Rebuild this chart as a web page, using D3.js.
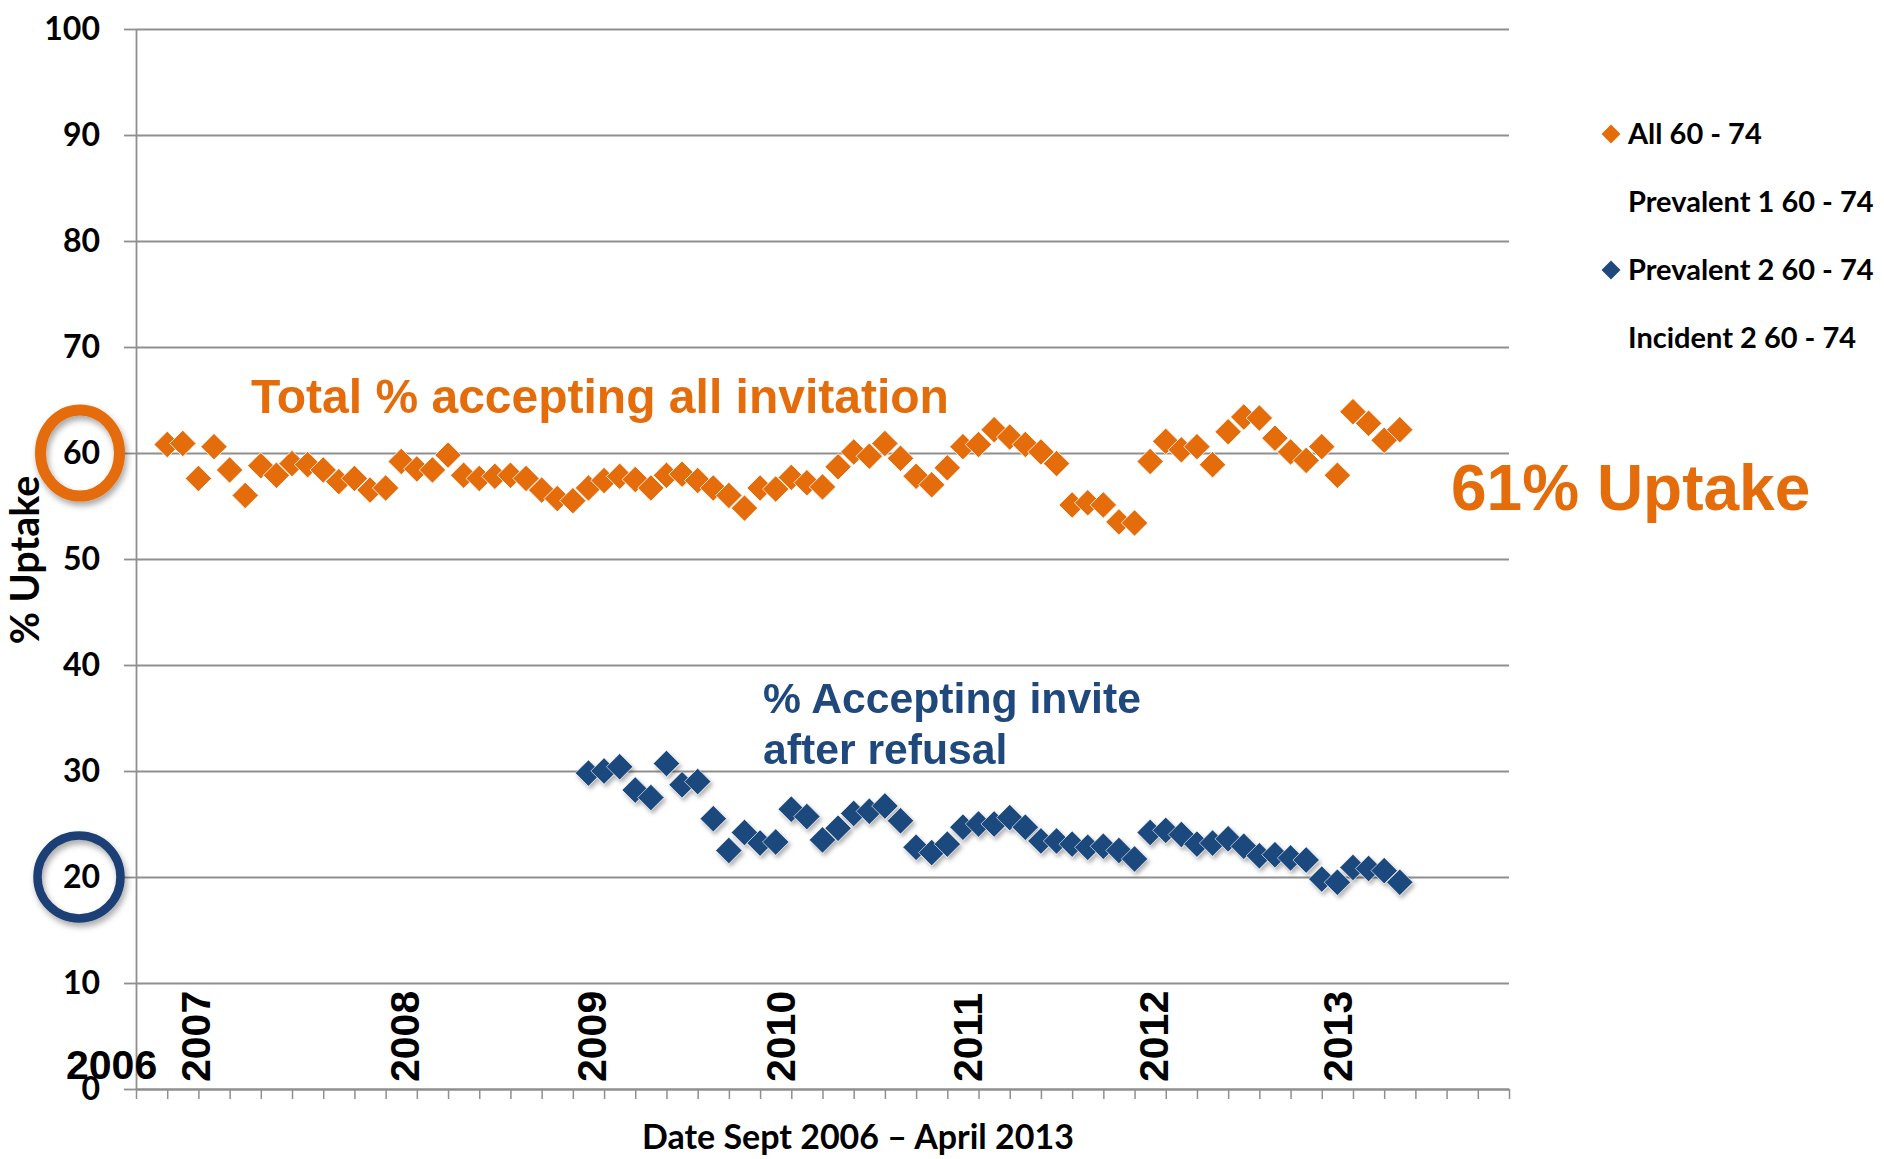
<!DOCTYPE html>
<html>
<head>
<meta charset="utf-8">
<script src="https://cdn.jsdelivr.net/npm/d3@7"></script>
<style>
  body { margin: 0; background: #fff; }
  svg { display: block; }
</style>
</head>
<body>
<div id="chart"></div>
<script>
// months Sept 2006 .. April 2013 (80 categories)
const monthLabels = d3.timeMonth.range(new Date(2006, 8, 1), new Date(2013, 4, 1)).map(d3.timeFormat("%b %Y"));

// % uptake, all invitations, 60 - 74
const all6074 = [
  60.8, 60.9, 57.6, 60.6, 58.4, 56.0, 58.8, 57.9, 59.0, 58.9,
  58.4, 57.3, 57.6, 56.5, 56.7, 59.2, 58.5, 58.4, 59.8, 57.9,
  57.6, 57.8, 57.9, 57.6, 56.5, 55.7, 55.5, 56.7, 57.4, 57.8,
  57.5, 56.7, 57.9, 58.0, 57.4, 56.7, 56.0, 54.8, 56.7, 56.6,
  57.7, 57.2, 56.8, 58.7, 60.1, 59.7, 60.9, 59.5, 57.8, 57.0,
  58.6, 60.6, 60.8, 62.2, 61.5, 60.8, 60.1, 59.0, 55.1, 55.3,
  55.1, 53.5, 53.4, 59.2, 61.1, 60.3, 60.6, 58.9, 62.0, 63.4,
  63.3, 61.4, 60.1, 59.3, 60.6, 57.9, 63.9, 62.8, 61.2, 62.2
];

// % accepting after refusal (Prevalent 2), starts Dec 2008
const prevalent2Start = "Dec 2008";
const prevalent2 = [
  29.8, 30.0, 30.4, 28.2, 27.5, 30.7, 28.7, 29.0, 25.5, 22.5,
  24.2, 23.2, 23.3, 26.4, 25.7, 23.5, 24.6, 26.0, 26.2, 26.7,
  25.3, 22.8, 22.3, 23.1, 24.7, 25.0, 25.0, 25.6, 24.7, 23.4,
  23.4, 23.1, 22.8, 22.9, 22.5, 21.7, 24.2, 24.4, 24.0, 23.1,
  23.2, 23.6, 22.9, 22.0, 22.1, 21.8, 21.6, 19.8, 19.5, 20.9,
  20.8, 20.6, 19.5
];

const yTicks = [0, 10, 20, 30, 40, 50, 60, 70, 80, 90, 100];
const yearLabels = ["2007", "2008", "2009", "2010", "2011", "2012", "2013"];
const yearLabelAt = [1.8, 15.2, 27.2, 39.3, 51.3, 63.2, 75.0];   // month index of each year label
const legendNames = ["All 60 - 74", "Prevalent 1 60 - 74", "Prevalent 2 60 - 74", "Incident 2 60 - 74"];

const ORANGE = "#E46C0A", BLUE = "#1F497D";
const legendColors = [ORANGE, null, BLUE, null];
const calibri = "Lato, 'Open Sans', sans-serif";
const arial = "'Liberation Sans', Arial, sans-serif";

const svg = d3.select("#chart")
    .append("svg")
    .attr("width", 1884)
    .attr("height", 1159);

const defs = svg.append("defs");
defs.append("filter").attr("id", "shadow").attr("x", "-30%").attr("y", "-30%").attr("width", "160%").attr("height", "160%")
    .append("feDropShadow").attr("dx", 2).attr("dy", 4).attr("stdDeviation", 3)
    .attr("flood-color", "#000").attr("flood-opacity", 0.35);
defs.append("filter").attr("id", "mshadow").attr("x", "-30%").attr("y", "-30%").attr("width", "160%").attr("height", "160%")
    .append("feDropShadow").attr("dx", 2).attr("dy", 3).attr("stdDeviation", 2)
    .attr("flood-color", "#000").attr("flood-opacity", 0.3);

const x = d3.scaleLinear().domain([-2, 86]).range([136, 1509]);
const y = d3.scaleLinear().domain([0, 100]).range([1089, 29]);

// gridlines
svg.append("g")
    .attr("transform", `translate(${x(-2)},0)`)
    .call(d3.axisLeft(y).tickValues(yTicks).tickSize(-(x(86) - x(-2))).tickFormat(""))
    .call(g => g.select(".domain").remove())
    .call(g => g.selectAll("line").attr("stroke", "#8f8f8f").attr("stroke-width", 1.8));

// y axis
svg.append("g")
    .attr("transform", `translate(${x(-2)},0)`)
    .call(d3.axisLeft(y).tickValues(yTicks).tickSize(12).tickSizeOuter(0).tickPadding(24))
    .call(g => g.select(".domain").attr("stroke", "#8f8f8f").attr("stroke-width", 1.8))
    .call(g => g.selectAll("line").attr("stroke", "#8f8f8f").attr("stroke-width", 1.8))
    .call(g => g.selectAll("text")
        .attr("font-family", calibri).attr("font-weight", 700)
        .attr("font-size", 32).attr("fill", "#000"));

// x axis (tick every 2 months)
svg.append("g")
    .attr("transform", `translate(0,${y(0)})`)
    .call(d3.axisBottom(x).tickValues(d3.range(-2, 87, 2)).tickSize(10).tickSizeOuter(0).tickFormat(""))
    .call(g => g.select(".domain").attr("stroke", "#8f8f8f").attr("stroke-width", 1.8))
    .call(g => g.selectAll("line").attr("stroke", "#8f8f8f").attr("stroke-width", 1.5));

// year labels
svg.append("g")
    .selectAll("text")
    .data(yearLabels)
    .enter().append("text")
    .attr("transform", (d, i) => `translate(${x(yearLabelAt[i])},${y(0) - 7}) rotate(-90)`)
    .attr("dy", "0.36em")
    .attr("font-family", arial).attr("font-weight", 700).attr("font-size", 41)
    .text(d => d);

svg.append("text")
    .attr("x", 66).attr("y", 1079)
    .attr("font-family", arial).attr("font-weight", 700).attr("font-size", 41)
    .text("2006");

// axis titles
svg.append("text")
    .attr("transform", `translate(39,${y(50) + 1}) rotate(-90)`)
    .attr("text-anchor", "middle")
    .attr("font-family", calibri).attr("font-weight", 700).attr("font-size", 39.5)
    .text("% Uptake");

svg.append("text")
    .attr("x", 858).attr("y", 1149)
    .attr("text-anchor", "middle")
    .attr("font-family", calibri).attr("font-weight", 700).attr("font-size", 34)
    .text("Date Sept 2006 \u2013 April 2013");

// series
const diamond = d3.symbol(d3.symbolSquare, 350);
const blueOffset = monthLabels.indexOf(prevalent2Start);

svg.append("g")
    .selectAll("path")
    .data(all6074)
    .enter().append("path")
    .attr("d", diamond)
    .attr("transform", (d, i) => `translate(${x(i)},${y(d)}) rotate(45)`)
    .attr("fill", ORANGE)
    .attr("stroke", "#fff").attr("stroke-width", 0.8);

svg.append("g")
    .attr("filter", "url(#mshadow)")
    .selectAll("path")
    .data(prevalent2)
    .enter().append("path")
    .attr("d", diamond)
    .attr("transform", (d, i) => `translate(${x(i + blueOffset)},${y(d)}) rotate(45)`)
    .attr("fill", BLUE)
    .attr("stroke", "#fff").attr("stroke-width", 0.6);

// rings around 60 and 20
svg.append("ellipse")
    .attr("cx", 80).attr("cy", y(60))
    .attr("rx", 39.5).attr("ry", 43)
    .attr("fill", "none").attr("stroke", ORANGE).attr("stroke-width", 11)
    .attr("filter", "url(#shadow)");

svg.append("ellipse")
    .attr("cx", 79).attr("cy", y(20))
    .attr("rx", 41.5).attr("ry", 41.5)
    .attr("fill", "none").attr("stroke", "#1C3F75").attr("stroke-width", 8.5)
    .attr("filter", "url(#shadow)");

// annotations
svg.append("text")
    .attr("x", 251).attr("y", 413)
    .attr("font-family", arial).attr("font-weight", 700).attr("font-size", 48)
    .attr("fill", ORANGE)
    .text("Total % accepting all invitation");

svg.append("text")
    .attr("x", 1451).attr("y", 510)
    .attr("font-family", arial).attr("font-weight", 700).attr("font-size", 64)
    .attr("fill", ORANGE)
    .text("61% Uptake");

svg.append("text")
    .attr("x", 763).attr("y", 713)
    .attr("font-family", arial).attr("font-weight", 700).attr("font-size", 42.7)
    .attr("fill", BLUE)
    .text("% Accepting invite");

svg.append("text")
    .attr("x", 763).attr("y", 764)
    .attr("font-family", arial).attr("font-weight", 700).attr("font-size", 42.7)
    .attr("fill", BLUE)
    .text("after refusal");

// legend
const legend = svg.append("g")
    .selectAll("g")
    .data(legendNames)
    .enter().append("g")
    .attr("transform", (d, i) => `translate(1611,${134 + i * 68})`);

legend.filter((d, i) => legendColors[i])
    .append("path")
    .attr("d", d3.symbol(d3.symbolSquare, 180))
    .attr("transform", "rotate(45)")
    .attr("fill", d => legendColors[legendNames.indexOf(d)]);

legend.append("text")
    .attr("x", 17).attr("y", 10)
    .attr("font-family", calibri).attr("font-weight", 700).attr("font-size", 29)
    .text(d => d);
</script>
</body>
</html>
